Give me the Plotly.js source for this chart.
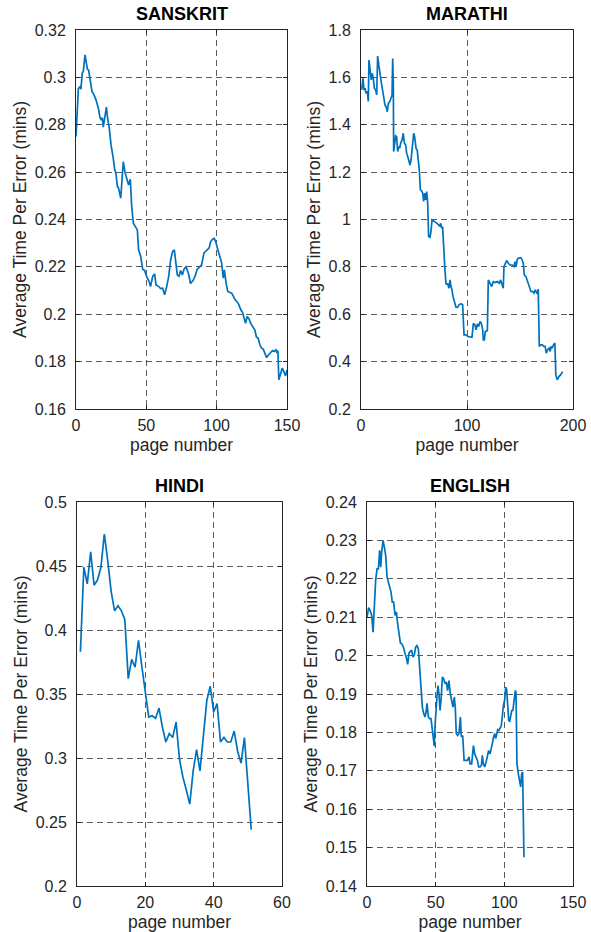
<!DOCTYPE html>
<html>
<head>
<meta charset="utf-8">
<script src="https://cdn.plot.ly/plotly-3.0.1.min.js"></script>
<style>
  html, body { margin: 0; padding: 0; background: #fff; }
  #chart { width: 591px; height: 932px; }
</style>
</head>
<body>
<div id="chart"></div>
<script>
// ---------------- DATA ----------------
const panelTitles = ["SANSKRIT", "MARATHI", "HINDI", "ENGLISH"];
const xAxisLabel = "page number";
const yAxisLabel = "Average Time Per Error (mins)";

const sanskritX = [0, 1.7, 2.8, 3.5, 4.5, 5.2, 6.4, 7.1, 8.1, 9, 10.4, 11.4, 12.8, 14.2, 15.9, 17, 18, 18.7, 19.4, 20.4, 21.6, 22.5, 23.7, 24.9, 25.8, 26.5, 27.5, 28.4, 29.4, 30.3, 31.8, 32.7, 33.6, 34.8, 36, 37.4, 38.6, 39.6, 40.8, 42.2, 43.6, 44.5, 46, 47.4, 48.8, 50.2, 51.7, 53, 54.5, 55.9, 56.9, 58.8, 60.2, 61.6, 63, 64.5, 65.9, 67.3, 68.7, 69.9, 71, 72, 73.2, 74.4, 75.6, 76.8, 78.2, 79.9, 81.4, 83.2, 84.6, 86.2, 87.9, 89.3, 90.9, 92.1, 93.3, 94.7, 95.7, 97.1, 98.3, 99.3, 100.5, 101.7, 102.4, 103.5, 104.7, 105.5, 106.7, 107.9, 109.1, 110.7, 111.9, 113.1, 114.3, 115.5, 117.2, 118.4, 119.3, 120.5, 121.7, 123.1, 124.3, 125.5, 127.1, 128.3, 129.5, 130.7, 131.9, 133.1, 134.3, 135.5, 136.9, 138.3, 139.7, 140.9, 142.1, 143, 143.5, 144.2, 145.4, 146.6, 147.8, 149, 150];
const sanskritY = [0.275, 0.2954, 0.296, 0.295, 0.302, 0.3025, 0.3095, 0.306, 0.3035, 0.303, 0.2975, 0.294, 0.2926, 0.2905, 0.287, 0.2832, 0.282, 0.283, 0.279, 0.2825, 0.2874, 0.2827, 0.2785, 0.2715, 0.267, 0.2658, 0.2612, 0.2595, 0.254, 0.2532, 0.249, 0.255, 0.2644, 0.26, 0.2574, 0.2546, 0.257, 0.2455, 0.2384, 0.237, 0.2356, 0.2272, 0.2244, 0.219, 0.2185, 0.216, 0.2142, 0.2117, 0.216, 0.217, 0.2124, 0.2117, 0.2108, 0.211, 0.2082, 0.2117, 0.216, 0.223, 0.2265, 0.2272, 0.2215, 0.2166, 0.216, 0.2185, 0.2166, 0.219, 0.22, 0.2173, 0.213, 0.2142, 0.216, 0.219, 0.22, 0.2208, 0.2258, 0.2265, 0.2272, 0.228, 0.2307, 0.2317, 0.232, 0.2307, 0.228, 0.2255, 0.223, 0.2218, 0.2152, 0.2187, 0.213, 0.2096, 0.2093, 0.2089, 0.2075, 0.2061, 0.2054, 0.2044, 0.2019, 0.2007, 0.1988, 0.1962, 0.1991, 0.1979, 0.196, 0.1948, 0.1934, 0.1903, 0.1899, 0.1871, 0.1857, 0.1853, 0.1836, 0.1817, 0.1829, 0.1839, 0.1847, 0.1843, 0.185, 0.1836, 0.1847, 0.1723, 0.1751, 0.1772, 0.1758, 0.174, 0.1765];

const marathiX = [0.6, 1.9, 2.8, 3.8, 4.7, 6, 6.9, 7.5, 8.8, 9.7, 10.7, 11.6, 12.6, 13.8, 14.8, 15.7, 17, 17.9, 19.5, 21.1, 22.6, 23.9, 24.8, 25.8, 27, 28.3, 29.3, 29.9, 30.5, 30.8, 31.8, 32.7, 33.6, 34.6, 35.5, 36.5, 37.4, 38.7, 39.9, 40.9, 42.1, 43.1, 44.3, 45.3, 46.2, 47.2, 48.4, 49.7, 50.6, 51.9, 53.1, 54.1, 55, 56, 57, 58.2, 59.1, 60.1, 61, 62, 62.9, 63.8, 65.1, 66, 67, 68.6, 70.1, 71.7, 73.3, 74.2, 75.2, 76.1, 77, 78, 79.2, 80.2, 81.8, 83, 84, 84.9, 85.8, 86.8, 88.1, 89.6, 91.1, 92.5, 94.3, 95.9, 97.2, 99, 100.9, 102.8, 104.7, 106, 107.5, 108.5, 109.8, 111, 112.3, 113.5, 114.8, 115.4, 116.3, 117.3, 119.2, 120.1, 121.7, 123.3, 124.8, 126.7, 128.6, 130.5, 131.7, 133, 134.2, 134.9, 136.1, 137.4, 139, 140.6, 142.5, 144.3, 145.3, 146.2, 147.5, 148.7, 150.6, 151.8, 153.1, 154, 155.6, 157.2, 158.8, 160.3, 161.9, 163.2, 164.4, 165.3, 166.3, 167.2, 168.2, 169.4, 171, 172.6, 173.8, 174.7, 176, 177.6, 178.5, 179.4, 180.4, 181.6, 182.9, 183.8, 185.1, 186.7, 188.3, 190.2];
const marathiY = [1.547, 1.596, 1.547, 1.554, 1.533, 1.54, 1.498, 1.673, 1.624, 1.589, 1.617, 1.596, 1.554, 1.547, 1.526, 1.69, 1.645, 1.61, 1.568, 1.526, 1.484, 1.474, 1.455, 1.49, 1.497, 1.512, 1.526, 1.68, 1.575, 1.287, 1.336, 1.353, 1.35, 1.287, 1.308, 1.301, 1.322, 1.336, 1.364, 1.322, 1.315, 1.28, 1.263, 1.237, 1.23, 1.251, 1.322, 1.364, 1.35, 1.301, 1.291, 1.251, 1.209, 1.125, 1.122, 1.111, 1.076, 1.111, 1.083, 1.118, 1.069, 0.928, 0.925, 0.949, 0.998, 0.994, 0.987, 0.984, 0.977, 0.97, 0.984, 0.963, 0.97, 0.872, 0.787, 0.728, 0.728, 0.71, 0.745, 0.717, 0.703, 0.675, 0.65, 0.63, 0.629, 0.64, 0.644, 0.64, 0.513, 0.513, 0.506, 0.503, 0.503, 0.562, 0.555, 0.534, 0.559, 0.548, 0.569, 0.562, 0.534, 0.492, 0.492, 0.527, 0.531, 0.745, 0.731, 0.717, 0.738, 0.734, 0.738, 0.731, 0.745, 0.724, 0.71, 0.801, 0.815, 0.827, 0.815, 0.808, 0.808, 0.801, 0.822, 0.801, 0.832, 0.837, 0.839, 0.832, 0.815, 0.766, 0.759, 0.738, 0.717, 0.696, 0.696, 0.689, 0.703, 0.696, 0.686, 0.706, 0.464, 0.471, 0.471, 0.464, 0.464, 0.436, 0.45, 0.457, 0.443, 0.464, 0.457, 0.471, 0.478, 0.344, 0.323, 0.337, 0.344, 0.358];

const hindiX = [1, 2, 3, 4, 5, 6, 7, 8, 9, 10, 11, 12, 13, 14, 15, 16, 17, 18, 19, 20, 21, 22, 23, 24, 25, 26, 27, 28, 29, 30, 31, 32, 33, 34, 35, 36, 37, 38, 39, 40, 41, 42, 43, 44, 45, 46, 47, 48, 49, 51];
const hindiY = [0.383, 0.449, 0.436, 0.461, 0.435, 0.439, 0.449, 0.475, 0.454, 0.430, 0.415, 0.419, 0.415, 0.408, 0.362, 0.377, 0.371, 0.392, 0.371, 0.350, 0.332, 0.333, 0.331, 0.339, 0.324, 0.3125, 0.319, 0.316, 0.328, 0.299, 0.285, 0.275, 0.264, 0.290, 0.3065, 0.290, 0.319, 0.345, 0.356, 0.336, 0.3425, 0.3125, 0.316, 0.3125, 0.3125, 0.321, 0.3055, 0.296, 0.316, 0.244];

const englishX = [0, 1.2, 2.2, 3.4, 4.4, 5.3, 6.3, 7.3, 8.3, 9.2, 10, 10.7, 11.7, 12.6, 13.6, 14.6, 15.5, 16.5, 17.5, 18.4, 19.4, 20.4, 21.4, 22.3, 23.3, 24.3, 25.2, 26.5, 27.7, 28.6, 29.6, 30.6, 31.6, 32.5, 33.5, 34.5, 35.4, 36.4, 37.4, 38.3, 39.3, 40.3, 41.3, 42.2, 43, 43.7, 44.7, 45.6, 46.6, 47.6, 48.3, 49, 49.5, 50.2, 51, 51.7, 52.4, 53.2, 53.9, 54.9, 55.8, 56.8, 57.8, 58.7, 59.7, 60.7, 61.7, 62.6, 63.6, 64.3, 65, 66, 67, 68, 68.7, 69.7, 70.7, 72, 73.1, 74.3, 75, 76.2, 77.5, 78.4, 79.4, 80.4, 81.3, 82.3, 83.3, 84, 84.7, 85.7, 86.7, 87.7, 88.6, 89.6, 90.6, 91.3, 92, 93, 93.7, 94.5, 95.2, 96.1, 97.1, 97.8, 98.6, 99.3, 100.2, 101, 101.7, 102.4, 103.2, 103.9, 104.6, 105.4, 106.2, 107, 108, 108.5, 109.2, 110.2, 111.1, 111.9, 112.6, 113.3, 114.3];
const englishY = [0.210, 0.2125, 0.2118, 0.2105, 0.2061, 0.2144, 0.2196, 0.2226, 0.2226, 0.2274, 0.223, 0.227, 0.230, 0.2283, 0.2261, 0.2205, 0.2191, 0.2178, 0.2165, 0.2139, 0.2139, 0.2105, 0.2113, 0.2083, 0.2057, 0.2033, 0.2031, 0.2022, 0.2005, 0.1996, 0.1977, 0.2007, 0.2011, 0.2014, 0.1996, 0.2003, 0.2022, 0.2026, 0.2018, 0.1961, 0.1909, 0.1866, 0.1849, 0.184, 0.1853, 0.1876, 0.184, 0.1836, 0.1836, 0.1805, 0.1779, 0.1764, 0.1814, 0.1866, 0.1896, 0.1922, 0.19, 0.1857, 0.1883, 0.1944, 0.194, 0.1927, 0.1931, 0.1909, 0.1935, 0.19, 0.1883, 0.1866, 0.1892, 0.1862, 0.1797, 0.1792, 0.1797, 0.184, 0.1788, 0.1792, 0.1727, 0.1726, 0.1727, 0.1736, 0.1718, 0.1718, 0.1766, 0.1744, 0.1736, 0.1727, 0.171, 0.171, 0.1714, 0.174, 0.1718, 0.171, 0.1723, 0.1736, 0.1753, 0.1744, 0.1757, 0.1772, 0.1786, 0.1797, 0.1784, 0.1797, 0.1807, 0.1805, 0.1816, 0.1818, 0.1844, 0.187, 0.1883, 0.1918, 0.1911, 0.187, 0.1831, 0.1829, 0.1849, 0.1857, 0.1857, 0.1883, 0.1909, 0.1905, 0.1718, 0.1692, 0.1675, 0.1658, 0.1692, 0.1697, 0.1475];

// axis ranges / ticks
const xRanges = [[0, 150], [0, 200], [0, 60], [0, 150]];
const xDticks = [50, 100, 20, 50];
const yRanges = [[0.16, 0.32], [0.2, 1.8], [0.2, 0.5], [0.14, 0.24]];
const yDticks = [0.02, 0.2, 0.05, 0.01];

// ---------------- LAYOUT ----------------
const W = 591, H = 932;
// plot boxes in pixels: [left, right, top, bottom]
const boxes = [[76, 287, 30, 409], [361, 573, 30, 409], [77, 282, 502, 886], [367, 573, 502, 886]];

const series = [[sanskritX, sanskritY], [marathiX, marathiY], [hindiX, hindiY], [englishX, englishY]];
const lineColor = "#0072BD";
const FONT = "Liberation Sans, Arial, Helvetica, sans-serif";
const TXT = "#262626";

const traces = series.map((s, i) => ({
  x: s[0], y: s[1], type: "scatter", mode: "lines",
  line: {color: lineColor, width: 1.7},
  xaxis: "x" + (i === 0 ? "" : i + 1),
  yaxis: "y" + (i === 0 ? "" : i + 1),
  showlegend: false, hoverinfo: "x+y"
}));

const layout = {
  width: W, height: H,
  margin: {l: 0, r: 0, t: 0, b: 0},
  paper_bgcolor: "#ffffff", plot_bgcolor: "#ffffff",
  font: {family: FONT, size: 16, color: TXT},
  showlegend: false,
  annotations: []
};

boxes.forEach((b, i) => {
  const sfx = i === 0 ? "" : String(i + 1);
  const common = {
    showline: true, mirror: "ticks", linecolor: TXT, linewidth: 1,
    showgrid: true, gridcolor: "rgba(38,38,38,0.75)", griddash: "6px,4px", gridwidth: 1,
    zeroline: false, ticks: "inside", ticklen: 4, tickwidth: 1, tickcolor: TXT,
    automargin: false,
    tickfont: {family: FONT, size: 16, color: TXT}
  };
  layout["xaxis" + sfx] = Object.assign({}, common, {
    domain: [b[0] / W, b[1] / W],
    range: xRanges[i], tick0: 0, dtick: xDticks[i],
    anchor: "y" + sfx, ticklabelstandoff: 2,
    title: {text: xAxisLabel, font: {family: FONT, size: 17.5, color: TXT}, standoff: 5}
  });
  layout["yaxis" + sfx] = Object.assign({}, common, {
    domain: [(H - b[3]) / H, (H - b[2]) / H],
    range: yRanges[i], tick0: yRanges[i][0], dtick: yDticks[i],
    anchor: "x" + sfx, ticklabelstandoff: 6,
    title: {text: yAxisLabel, font: {family: FONT, size: 17.5, color: TXT}, standoff: 3}
  });
  layout.annotations.push({
    text: "<b>" + panelTitles[i] + "</b>",
    xref: "paper", yref: "paper",
    x: (b[0] + b[1]) / 2 / W, y: (H - b[2] + 4) / H,
    xanchor: "center", yanchor: "bottom", showarrow: false,
    font: {family: FONT, size: 18, color: "#000000"}
  });
});

Plotly.newPlot("chart", traces, layout, {staticPlot: true, displayModeBar: false});
</script>
</body>
</html>
